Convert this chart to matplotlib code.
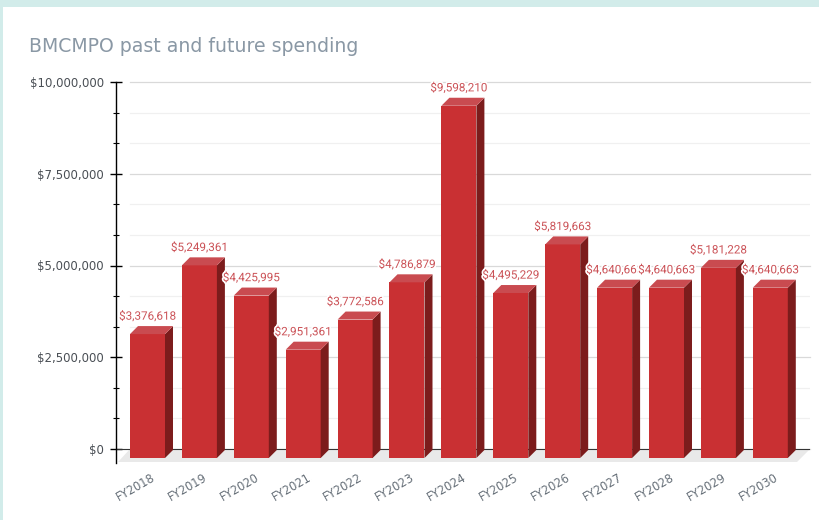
import matplotlib
matplotlib.use("Agg")
import matplotlib.pyplot as plt
import matplotlib.patheffects as pe
from matplotlib.patches import Polygon, Rectangle
from matplotlib.ticker import MultipleLocator, FuncFormatter
from matplotlib.transforms import ScaledTranslation

categories = ["FY2018", "FY2019", "FY2020", "FY2021", "FY2022", "FY2023", "FY2024",
              "FY2025", "FY2026", "FY2027", "FY2028", "FY2029", "FY2030"]
spending = [3376618, 5249361, 4425995, 2951361, 3772586, 4786879, 9598210,
            4495229, 5819663, 4640663, 4640663, 5181228, 4640663]
title = "BMCMPO past and future spending"

W, H = 820, 520
fig = plt.figure(figsize=(W / 100, H / 100), dpi=100, facecolor="white")
fig.add_artist(Rectangle((0, 1 - 7 / H), 1, 7 / H, transform=fig.transFigure, color="#d2ecea", lw=0))
fig.add_artist(Rectangle((0, 0), 3 / W, 1, transform=fig.transFigure, color="#d2ecea", lw=0))

L, R, T, B = 116.5, 810.0, 82.0, 462.5
ax = fig.add_axes([L / W, 1 - B / H, (R - L) / W, (B - T) / H])
ax.patch.set_alpha(0)

px_y = 1e7 / 367.0          # dollars per pixel
px_x = 1 / 51.9             # categories per pixel
ax.set_ylim(-(B - 449) * px_y, 1e7)
ax.set_xlim((L - 147.5) * px_x, (R - 147.5) * px_x)

dx, dy = 8 * px_x, 8 * px_y
drop = 9 * px_y
half = 17.5 * px_x
x_grid_start = (130 - 147.5) * px_x
x_left, x_right = ax.get_xlim()

# grid lines
for v in range(0, 10000001, 2500000):
    ax.plot([x_grid_start, x_right], [v, v], color="#d9d9d9", lw=0.9, zorder=1, clip_on=False)
for k in range(12):
    v = k * 2500000 / 3
    if k % 3:
        ax.plot([x_grid_start, x_right], [v, v], color="#f0f0f0", lw=0.9, zorder=1)

# floor and baseline
ax.add_patch(Polygon([(x_grid_start, 0), (x_right, 0), (x_right - 13 * px_x, -13 * px_y),
                      ((118 - 147.5) * px_x, -13 * px_y)], closed=True, color="#e9e9e9", lw=0, zorder=1.5))
ax.plot([x_left, x_right], [0, 0], color="#333333", lw=0.8, zorder=1.6)

# bars
xs = list(range(len(categories)))
ax.bar(xs, [v for v in spending], width=2 * half, bottom=-drop, color="#c93033", lw=0, zorder=3)
for x, v in zip(xs, spending):
    top = v - drop
    r = x + half
    l = x - half
    ax.add_patch(Polygon([(r, -drop), (r + dx, -drop + dy), (r + dx, top + dy), (r, top)],
                         closed=True, color="#7c1c1c", lw=0, zorder=3))
    ax.add_patch(Polygon([(l, top), (r, top), (r + dx, top + dy), (l + dx, top + dy)],
                         closed=True, color="#c94b50", lw=0, zorder=3))

# value labels
for x, v in zip(xs, spending):
    ax.annotate(f"${v:,.0f}", (x, v - drop), xytext=(0, 18 * 0.72), textcoords="offset points",
                ha="center", va="center", fontsize=8.4, family="Roboto", color="#cb5257", zorder=4,
                path_effects=[pe.withStroke(linewidth=2.4, foreground="white")])

# axes
for s in ("top", "right", "bottom"):
    ax.spines[s].set_visible(False)
ax.spines["left"].set_color("black")
ax.spines["left"].set_linewidth(1)
ax.yaxis.set_major_locator(MultipleLocator(2500000))
ax.yaxis.set_minor_locator(MultipleLocator(2500000 / 3))
ax.yaxis.set_major_formatter(FuncFormatter(lambda v, _: f"${v:,.0f}"))
ax.tick_params(axis="y", which="major", direction="inout", length=8, width=1, color="black",
               labelsize=8.5, labelcolor="#4a4f55", pad=5)
ax.tick_params(axis="y", which="minor", direction="inout", length=4.3, width=0.8, color="black")
ax.set_xticks(xs)
ax.set_xticklabels(categories, rotation=30, ha="center", va="center", fontsize=8.3, color="#666f78")
ax.tick_params(axis="x", length=0, pad=0)
shift = ScaledTranslation(-12 / 100, -24.5 / 100, fig.dpi_scale_trans)
for lab in ax.get_xticklabels():
    lab.set_transform(lab.get_transform() + shift)

fig.text(29 / W, 1 - 46 / H, title, fontsize=13.6, color="#8a98a5", ha="left", va="center")
fig.savefig("out.png", dpi=100)
